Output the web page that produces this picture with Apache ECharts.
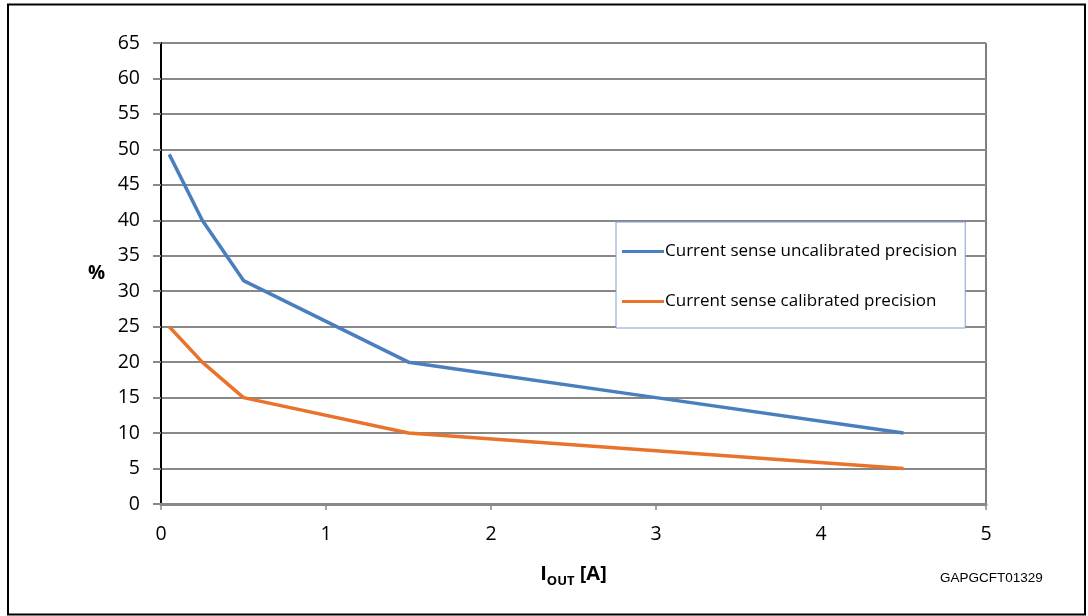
<!DOCTYPE html>
<html><head><meta charset="utf-8">
<script src="https://cdn.jsdelivr.net/npm/echarts@6/dist/echarts.min.js"></script>
<style>html,body{margin:0;padding:0;background:#fff}#c{width:1088px;height:616px}</style>
</head><body><div id="c"></div>
<script>
const seriesNames = ['Current sense uncalibrated precision', 'Current sense calibrated precision'];
const uncalX = [0.05, 0.25, 0.5, 1.5, 3, 4.5];
const uncalY = [49.3, 40, 31.5, 20, 15, 10];
const calX = [0.05, 0.25, 0.5, 1.5, 3, 4.5];
const calY = [25, 20, 15, 10, 7.5, 5];
const xTicks = [0, 1, 2, 3, 4, 5];
const yTicks = [0, 5, 10, 15, 20, 25, 30, 35, 40, 45, 50, 55, 60, 65];

const chart = echarts.init(document.getElementById('c'));
const font = '"Open Sans", Lato, sans-serif';
chart.setOption({
  animation: false,
  graphic: [
    {type: 'rect', shape: {x: 8, y: 4.5, width: 1077, height: 610}, style: {fill: 'none', stroke: '#000', lineWidth: 2}, z: -1},
    {type: 'text', left: 940, top: 571, style: {text: 'GAPGCFT01329', font: '13.5px "Liberation Sans", Arial, sans-serif', fill: '#000'}}
  ],
  grid: {left: 161, right: 102, top: 43, bottom: 112, show: true, borderColor: '#000', borderWidth: 1},
  legend: {
    orient: 'vertical', left: 616, top: 222,
    backgroundColor: '#fff', borderColor: '#7f9fcf', borderWidth: 1,
    padding: [21, 8, 18, 6], itemGap: 33, itemWidth: 42, itemHeight: 18,
    textStyle: {fontFamily: font, fontSize: 17, color: '#000', padding: [0, 0, 0, -4]},
    data: seriesNames.map(n => ({name: n, icon: 'path://M0,0 L42,0 L42,3 L0,3 Z'}))
  },
  xAxis: {
    type: 'value', min: xTicks[0], max: xTicks[xTicks.length - 1], interval: 1,
    name: '{b|I}{s|OUT}{b| [A]}', nameLocation: 'middle', nameGap: 60,
    nameTextStyle: {rich: {
      b: {fontFamily: font, fontWeight: 'bold', fontSize: 20, color: '#000', lineHeight: 24, verticalAlign: 'top'},
      s: {fontFamily: font, fontWeight: 'bold', fontSize: 13, color: '#000', lineHeight: 16, verticalAlign: 'bottom', padding: [14, 0, 0, 0]}
    }},
    axisLine: {show: true, onZero: false, lineStyle: {color: '#888', width: 3}},
    axisTick: {show: true, length: 6, lineStyle: {color: '#888', width: 1.5}},
    axisLabel: {fontFamily: font, fontSize: 19.5, color: '#000', margin: 20},
    splitLine: {show: false}
  },
  yAxis: {
    type: 'value', min: yTicks[0], max: yTicks[yTicks.length - 1], interval: 5,
    name: '%', nameLocation: 'middle', nameRotate: 0, nameGap: 56,
    nameTextStyle: {fontFamily: font, fontWeight: 'bold', fontSize: 19, color: '#000'},
    axisLine: {show: true, lineStyle: {color: '#000', width: 2}},
    axisTick: {show: true, length: 8, lineStyle: {color: '#888', width: 2}},
    axisLabel: {fontFamily: font, fontSize: 19.5, color: '#000', margin: 21},
    splitLine: {show: true, lineStyle: {color: '#888', width: 2}}
  },
  series: [
    {name: seriesNames[0], type: 'line', data: uncalX.map((x, i) => [x, uncalY[i]]), showSymbol: false, lineStyle: {color: '#4a7ebf', width: 3.5}, itemStyle: {color: '#4a7ebf'}},
    {name: seriesNames[1], type: 'line', data: calX.map((x, i) => [x, calY[i]]), showSymbol: false, lineStyle: {color: '#e9732c', width: 3.5}, itemStyle: {color: '#e9732c'}}
  ]
});
</script></body></html>
